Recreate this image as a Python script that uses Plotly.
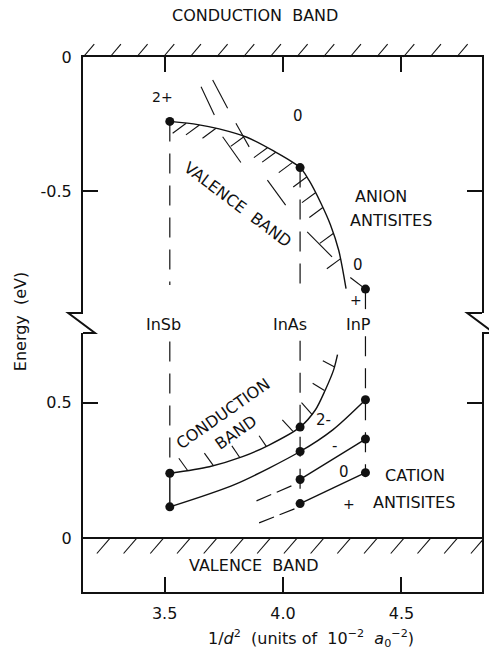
import numpy as np
import plotly.graph_objects as go

# ---------------------------------------------------------------------------
# Data: 1/d^2 in units of 10^-2 a0^-2, energies in eV
# ---------------------------------------------------------------------------
compounds = ["InSb", "InAs", "InP"]
inv_d2 = [3.522, 4.072, 4.348]
compound_label_x = [3.497, 4.031, 4.318]

# anion antisite levels, measured from the conduction-band edge
anion_level = [-0.240, -0.412, -0.865]

# valence-band edge seen from the conduction band (upper panel)
vb_edge_x = [3.522, 3.640, 3.730, 3.850, 3.960, 4.072, 4.110, 4.160, 4.200, 4.235, 4.266]
vb_edge_y = [-0.240, -0.252, -0.268, -0.300, -0.350, -0.412, -0.460, -0.545, -0.625, -0.720, -0.863]

# InP anion antisite 0/+ link
inp_link_x = [4.284, 4.348]
inp_link_y = [-0.822, -0.865]

# conduction-band edge measured from the valence band (lower panel)
cb_edge_x = [3.522, 3.689, 3.829, 3.941, 4.072, 4.137, 4.179, 4.214, 4.230]
cb_edge_y = [0.240, 0.264, 0.301, 0.344, 0.410, 0.474, 0.548, 0.622, 0.677]

# cation antisite levels
cat_2m_x = [3.522, 3.800, 4.072, 4.210, 4.348]
cat_2m_y = [0.116, 0.200, 0.320, 0.400, 0.511]
cat_1m_x = [4.072, 4.348]
cat_1m_y = [0.217, 0.366]
cat_0_x = [4.072, 4.348]
cat_0_y = [0.128, 0.242]

# extrapolations of the - and 0 levels below InAs
ext_1m_x = [3.888, 4.053]
ext_1m_y = [0.138, 0.200]
ext_0_x = [3.899, 4.053]
ext_0_y = [0.057, 0.110]

# cation points per compound (InSb: CB edge, 2-; InAs: CB, 2-, -, 0; InP: 2-, -, 0)
cat_pts_x = [3.522, 3.522, 4.072, 4.072, 4.072, 4.072, 4.348, 4.348, 4.348]
cat_pts_y = [0.240, 0.116, 0.410, 0.320, 0.217, 0.128, 0.511, 0.366, 0.242]

# hatch marks along the band edges
vb_hatch_x = [3.591, 3.647, 3.717, 3.836, 3.934, 3.969, 4.039, 4.100, 4.137, 4.168, 4.212, 4.242]
vb_hatch_dx, vb_hatch_dy = -0.057, -0.037
vb_cross = [  # long strokes across the valence-band edge (x0, y0, x1, y1)
    (3.654, -0.111, 3.710, -0.216),
    (3.703, -0.086, 3.766, -0.191),
    (3.801, -0.247, 3.857, -0.335),
    (3.745, -0.297, 3.822, -0.393),
    (3.934, -0.459, 4.011, -0.552),
    (4.102, -0.652, 4.207, -0.745),
]
cb_hatch = [  # (x on edge, y on edge, x outer, y outer)
    (3.598, 0.249, 3.560, 0.295),
    (3.706, 0.268, 3.668, 0.314),
    (3.818, 0.297, 3.784, 0.341),
    (3.930, 0.338, 3.899, 0.378),
    (4.042, 0.394, 3.997, 0.437),
    (4.123, 0.456, 4.078, 0.500),
    (4.175, 0.545, 4.125, 0.572),
    (4.218, 0.632, 4.168, 0.655),
]

# vertical guides: (upper y0, upper y1, lower y0, lower y1)
guide_upper = [(-0.240, -0.850), (-0.412, -0.860), (-0.865, -0.940)]
guide_lower = [(0.726, 0.240), (0.728, 0.128), (0.745, 0.242)]

X_RANGE = [3.1555, 4.840]
UP_RANGE = [-0.954, 0.0]
LO_RANGE = [-0.198, 0.757]
UP_DOMAIN = [0.5215, 1.0]
LO_DOMAIN = [0.0, 0.4841]

FONT = "DejaVu Sans"
INK = "#111111"

fig = go.Figure()


def segments(pairs):
    xs, ys = [], []
    for x0, y0, x1, y1 in pairs:
        xs += [x0, x1, None]
        ys += [y0, y1, None]
    return xs, ys


def add_line(x, y, axes, dash=None, width=1.4, shape="linear", smoothing=1.0):
    xa, ya = axes
    line = dict(color=INK, width=width, shape=shape)
    if shape == "spline":
        line["smoothing"] = smoothing
    if dash:
        line["dash"] = dash
    fig.add_trace(go.Scatter(x=x, y=y, mode="lines", line=line, xaxis=xa, yaxis=ya,
                             hoverinfo="skip", showlegend=False, connectgaps=False))


UP = ("x", "y")
LO = ("x2", "y2")

# vertical compound guides
for xc, (a, b) in zip(inv_d2, guide_upper):
    add_line([xc, xc], [a, b], UP, dash="20px,12px", width=1.2)
for xc, (a, b) in zip(inv_d2, guide_lower):
    add_line([xc, xc], [a, b], LO, dash="20px,12px", width=1.2)

# upper panel: valence-band edge, hatches, anion antisite points
add_line(vb_edge_x, vb_edge_y, UP, shape="spline", smoothing=0.8)
hy = np.interp(vb_hatch_x, vb_edge_x, vb_edge_y)
hx, hyy = segments([(x, y, x + vb_hatch_dx, y + vb_hatch_dy) for x, y in zip(vb_hatch_x, hy)])
add_line(hx, hyy, UP, width=1.1)
cx, cy = segments(vb_cross)
add_line(cx, cy, UP, width=1.1)
add_line(inp_link_x, inp_link_y, UP, width=1.2)
fig.add_trace(go.Scatter(x=inv_d2, y=anion_level, mode="markers",
                         marker=dict(color=INK, size=9), xaxis="x", yaxis="y",
                         hoverinfo="skip", showlegend=False))

# lower panel: conduction-band edge, hatches, cation antisite levels
add_line(cb_edge_x, cb_edge_y, LO, shape="spline", smoothing=0.8)
bx, by = segments(cb_hatch)
add_line(bx, by, LO, width=1.1)
add_line(cat_2m_x, cat_2m_y, LO, shape="spline", smoothing=0.8)
add_line(cat_1m_x, cat_1m_y, LO)
add_line(cat_0_x, cat_0_y, LO)
add_line([inv_d2[0], inv_d2[0]], [cb_edge_y[0], cat_2m_y[0]], LO)
add_line(ext_1m_x, ext_1m_y, LO, dash="16px,6px", width=1.2)
add_line(ext_0_x, ext_0_y, LO, dash="16px,6px", width=1.2)
fig.add_trace(go.Scatter(x=cat_pts_x, y=cat_pts_y, mode="markers",
                         marker=dict(color=INK, size=9), xaxis="x2", yaxis="y2",
                         hoverinfo="skip", showlegend=False))

shapes = []
# hatching above the top edge (conduction band) and below the zero line (valence band)
for hxp in np.arange(3.157, 4.85, 0.1126):
    shapes.append(dict(type="line", xref="x", yref="y domain", x0=hxp, y0=1.0,
                       x1=hxp + 0.046, y1=1.05, line=dict(color=INK, width=1.1)))
for hxp in np.arange(3.269, 4.95, 0.1128):
    shapes.append(dict(type="line", xref="x2", yref="y2", x0=hxp - 0.055, y0=-0.056,
                       x1=hxp, y1=0.0, line=dict(color=INK, width=1.1)))

# axis-break zigzags on both energy axes
yu, yl = UP_DOMAIN[0], LO_DOMAIN[1]
for x_edge in (0.0, 1.0):
    shapes.append(dict(type="path", xref="paper", yref="paper",
                       path=f"M {x_edge},{yu} L {x_edge - 0.037},{yu} L {x_edge + 0.030},{yl} L {x_edge},{yl}",
                       line=dict(color=INK, width=2)))

ann = []


def label(text, x, y, xref="x", yref="y", angle=0, size=16, xanchor="center"):
    ann.append(dict(text=text, x=x, y=y, xref=xref, yref=yref, showarrow=False,
                    textangle=angle, xanchor=xanchor, yanchor="middle",
                    font=dict(family=FONT, size=size, color=INK)))


# upper panel labels (anion antisites)
label("2+", 3.493, -0.150, size=14)
label("0", 4.064, -0.220, size=15)
label("0", 4.316, -0.776, size=15)
label("+", 4.308, -0.904, size=14)
label("ANION", 4.412, -0.521)
label("ANTISITES", 4.456, -0.608)
label("VALENCE\u00a0\u00a0BAND", 3.808, -0.550, angle=37)

# lower panel labels (cation antisites)
label("2-", 4.172, 0.437, xref="x2", yref="y2", size=15)
label("-", 4.218, 0.341, xref="x2", yref="y2", size=15)
label("0", 4.256, 0.246, xref="x2", yref="y2", size=15)
label("+", 4.277, 0.125, xref="x2", yref="y2", size=14)
label("CATION", 4.557, 0.233, xref="x2", yref="y2")
label("ANTISITES", 4.554, 0.132, xref="x2", yref="y2")
label("CONDUCTION", 3.748, 0.460, xref="x2", yref="y2", angle=-35)
label("BAND", 3.801, 0.389, xref="x2", yref="y2", angle=-35)
label("VALENCE\u00a0\u00a0BAND", 3.878, -0.100, xref="x2", yref="y2")

# compound names in the axis break
for name, lx in zip(compounds, compound_label_x):
    label(name, lx, 1.031, xref="x2", yref="y2 domain")

# band name above the plot, axis titles
label("CONDUCTION\u00a0\u00a0BAND", 0.431, 1.078, xref="paper", yref="paper")
label("Energy\u00a0\u00a0(eV)", -0.157, 0.505, xref="paper", yref="paper", angle=-90)
label("1/<i>d</i><sup>2</sup>\u00a0\u00a0(units\u00a0of\u00a0\u00a010<sup>\u22122</sup>\u00a0\u00a0<i>a</i><sub>0</sub><sup>\u22122</sup>)",
      0.572, -0.086, xref="paper", yref="paper")

axis_common = dict(showgrid=False, showline=True, linecolor=INK, linewidth=2,
                   ticks="inside", tickcolor=INK, tickwidth=1.5, ticklen=15,
                   tickfont=dict(family=FONT, size=16, color=INK))

fig.update_layout(
    width=489, height=657,
    margin=dict(l=83, r=5, t=57, b=65),
    paper_bgcolor="white", plot_bgcolor="white",
    showlegend=False,
    xaxis=dict(**axis_common, domain=[0, 1], anchor="y", side="top", range=X_RANGE,
               tickvals=[3.5, 4.0, 4.5], showticklabels=False, zeroline=False),
    xaxis2=dict(**axis_common, domain=[0, 1], anchor="y2", range=X_RANGE, matches="x",
                tickvals=[3.5, 4.0, 4.5], ticktext=["3.5", "4.0", "4.5"],
                zeroline=False, ticklabelstandoff=6),
    yaxis=dict(**axis_common, domain=UP_DOMAIN, anchor="x", range=UP_RANGE, mirror="ticks",
               tickvals=[0, -0.5], ticktext=["0", "-0.5"], zeroline=False,
               ticklabelstandoff=6),
    yaxis2=dict(**axis_common, domain=LO_DOMAIN, anchor="x2", range=LO_RANGE, mirror="ticks",
                tickvals=[0, 0.5], ticktext=["0", "0.5"], zeroline=True,
                zerolinecolor=INK, zerolinewidth=2, ticklabelstandoff=6),
    shapes=shapes,
    annotations=ann,
)

fig.write_html("out.html")
